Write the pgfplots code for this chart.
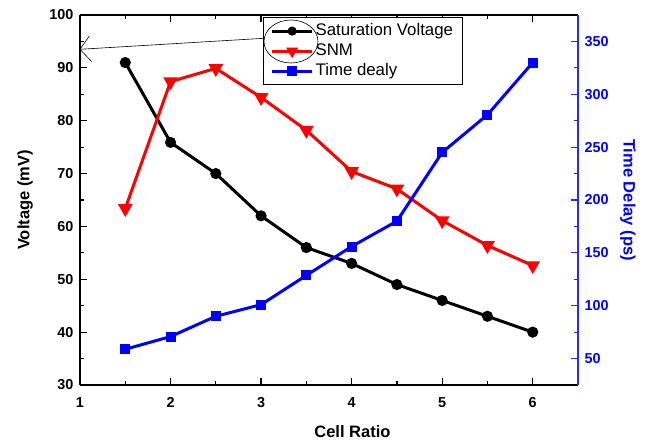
\documentclass[border=0pt]{standalone}
\usepackage{pgfplots}
\pgfplotsset{compat=1.18}
\usepackage{fontspec}
\setmainfont{Liberation Sans}
\definecolor{axblue}{RGB}{40,40,255}
\pgfplotsset{
  common/.style={
    scale only axis, width=498pt, height=370pt,
    at={(0pt,0pt)}, anchor=south west,
    xmin=1, xmax=6.5,
    xtick={1,2,3,4,5,6},
    minor x tick num=1,
    tick align=inside,
    major tick length=7pt, minor tick length=4pt,
    /pgf/number format/assume math mode=true,
    tick label style={font=\fontsize{14.4}{17}\selectfont\bfseries},
    label style={font=\fontsize{16.5}{19}\selectfont\bfseries},
    axis line style={line width=1.3pt},
    every tick/.style={line width=1.2pt},
  },
  legend image code/.code={\draw[mark repeat=2,mark phase=2,#1] plot coordinates {(0pt,0pt) (20pt,0pt) (40pt,0pt)};},
}
\begin{document}
\begin{tikzpicture}
\begin{axis}[common,
  axis y line*=left,
  ymin=30, ymax=100, ytick={30,40,...,100}, minor y tick num=1,
  xlabel={Cell Ratio},
  ylabel={Voltage (mV)},
  xlabel style={at={(axis description cs:0.547,-0.127)}, anchor=center},
  ylabel style={at={(axis description cs:-0.110,0.5)}, anchor=center},
  xticklabel style={yshift=-9pt},
  yticklabel style={xshift=-3pt},
]
\addplot[black, line width=3pt, mark=*, mark size=4pt] coordinates {
(1.5,91) (2,75.9) (2.5,70) (3,62) (3.5,56) (4,53) (4.5,49) (5,46) (5.5,43) (6,40)};
\addplot[red, line width=3pt, mark=triangle*, mark size=5.5pt, mark options={rotate=180}] coordinates {
(1.5,63.4) (2,87.4) (2.5,89.9) (3,84.4) (3.5,78.2) (4,70.4) (4.5,67.1) (5,61.1) (5.5,56.4) (6,52.6)};
\end{axis}
\begin{axis}[common,
  axis y line*=right, axis x line=none,
  ymin=25, ymax=375, ytick={50,100,...,350}, minor y tick num=1,
  y axis line style={axblue, line width=2pt},
  ytick style={axblue, line width=1.2pt},
  yticklabel style={text=blue, xshift=3pt},
  ylabel={Time Delay (ps)},
  ylabel style={text=blue, at={(axis description cs:1.100,0.5)}, anchor=center, rotate=180},
  legend style={at={(axis description cs:0.368,0.994)}, anchor=north west,
    draw=black, line width=0.8pt, fill=white,
    font=\fontsize{16.8}{19}\selectfont, row sep=0pt, inner xsep=7pt, inner ysep=3.5pt,
    nodes={inner sep=2pt, text height=12.5pt, text depth=3.5pt}},
  legend cell align=left,
]
\addlegendimage{black, line width=3pt, mark=*, mark size=3pt}
\addlegendentry{Saturation Voltage}
\addlegendimage{red, line width=3pt, mark=triangle*, mark size=4pt, mark options={rotate=180}}
\addlegendentry{SNM}
\addplot[blue, line width=3pt, mark=square*, mark size=3.5pt] coordinates {
(1.5,58.8) (2,70.8) (2.5,90) (3,101) (3.5,128.7) (4,156) (4.5,180) (5,245) (5.5,280.6) (6,330)};
\addlegendentry{Time dealy}
\end{axis}
\draw[black, line width=0.6pt] (211pt,343.5pt) ellipse [x radius=27pt, y radius=21.5pt];
\draw[black, line width=0.6pt] (0pt,335.7pt) -- (184pt,346.7pt);
\draw[black, line width=0.6pt] (9.3pt,349pt) -- (0pt,335.7pt) -- (11.7pt,323.3pt);
\path[use as bounding box] (-80pt,-56pt) rectangle (566pt,385pt);
\end{tikzpicture}
\end{document}
